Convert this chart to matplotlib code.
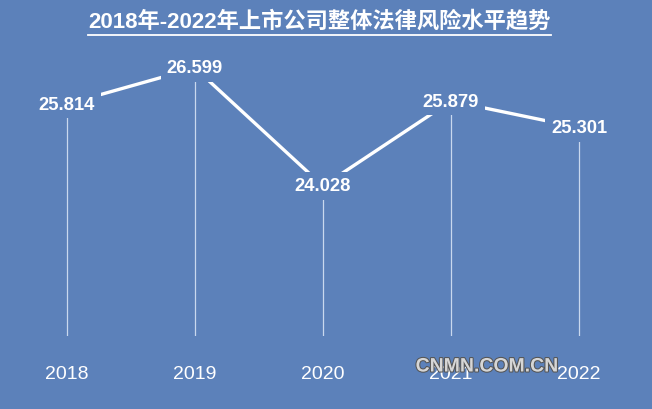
import matplotlib
matplotlib.use("Agg")
import matplotlib.pyplot as plt
import matplotlib.patheffects as pe
from matplotlib.lines import Line2D

# 数据
years = ["2018", "2019", "2020", "2021", "2022"]
risk_level = [25.814, 26.599, 24.028, 25.879, 25.301]
title_text = "2018年-2022年上市公司整体法律风险水平趋势"
watermark = "CNMN.COM.CN"

BG = "#5c81ba"
W, H = 652, 410

plt.rcParams['font.family'] = ['Liberation Sans', 'Noto Sans CJK SC', 'DejaVu Sans']

fig = plt.figure(figsize=(W / 100, H / 100), dpi=100, facecolor=BG)
ax = fig.add_axes([0, 73 / H, 1, 337 / H])
ax.set_facecolor(BG)
for s in ax.spines.values():
    s.set_visible(False)

xs = list(range(len(years)))
ax.set_xlim(-0.523, 4.570)
ax.set_ylim(20.76, 28.102)

# 竖线
ax.vlines(xs, 20.76, risk_level, color="#c9d8ee", linewidth=0.9, zorder=1)
# 折线
ax.plot(xs, risk_level, color="white", linewidth=2.4, solid_capstyle="butt", zorder=2)

# 数据标签（底色遮住线条）
for x, v in zip(xs, risk_level):
    ax.text(x, v, f"{v:.3f}", ha="center", va="center", color="white",
            fontsize=13.2, fontweight="bold", zorder=4,
            bbox=dict(boxstyle="square,pad=0.32", fc=BG, ec="none"))

ax.set_xticks(xs, years)
ax.tick_params(axis="x", length=0, pad=21, labelsize=14, labelcolor="white")
ax.set_yticks([])

# 标题（带下划线）
t = fig.text(0.49, 1 - 22 / H, title_text, ha="center", va="center",
             color="white", fontsize=16, fontweight="bold")
fig.canvas.draw()
bb = t.get_window_extent(renderer=fig.canvas.get_renderer()).transformed(fig.transFigure.inverted())
fig.add_artist(Line2D([bb.x0, bb.x1], [1 - 36 / H, 1 - 36 / H], color="white",
                      linewidth=1.3, transform=fig.transFigure))

# 水印
fig.text(487 / W, 1 - 368 / H, watermark, ha="center", va="center", color="#d6d6d6",
         fontsize=14, fontweight="bold", zorder=5,
         path_effects=[pe.withStroke(linewidth=1.5, foreground="#555555")])

fig.savefig("out.png", dpi=100, facecolor=BG)
